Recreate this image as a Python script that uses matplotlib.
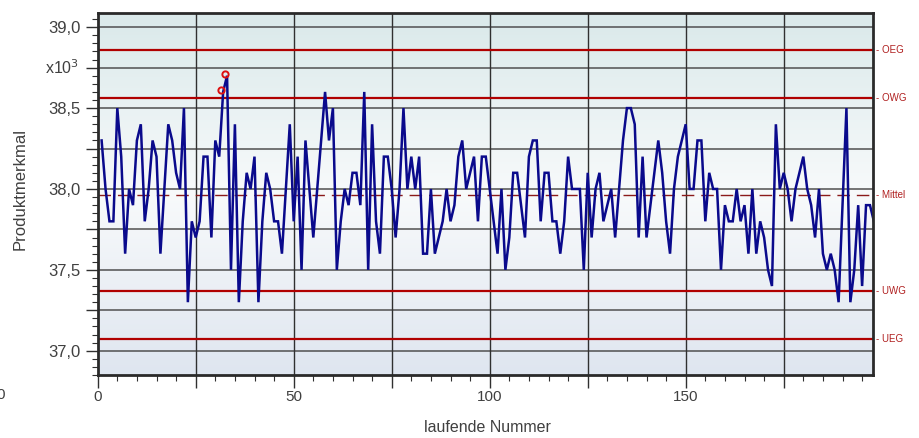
import numpy as np
import matplotlib
matplotlib.use("Agg")
import matplotlib.pyplot as plt
from matplotlib.ticker import MultipleLocator, FuncFormatter
from matplotlib.colors import LinearSegmentedColormap
import matplotlib.transforms as mtransforms

plt.rcParams['font.family'] = ['Liberation Sans', 'DejaVu Sans']

# ---- data (values in units of 10^3) ----
values = [
    38.3, 38.0, 37.8, 37.8, 38.5, 38.2, 37.6, 38.0, 37.9, 38.3,
    38.4, 37.8, 38.0, 38.3, 38.2, 37.6, 38.0, 38.4, 38.3, 38.1,
    38.0, 38.5, 37.3, 37.8, 37.7, 37.8, 38.2, 38.2, 37.7, 38.3,
    38.2, 38.6, 38.7, 37.5, 38.4, 37.3, 37.8, 38.1, 38.0, 38.2,
    37.3, 37.8, 38.1, 38.0, 37.8, 37.8, 37.6, 38.0, 38.4, 37.8,
    38.2, 37.5, 38.3, 38.0, 37.7, 38.0, 38.3, 38.6, 38.3, 38.5,
    37.5, 37.8, 38.0, 37.9, 38.1, 38.1, 37.9, 38.6, 37.5, 38.4,
    37.8, 37.6, 38.2, 38.2, 38.0, 37.7, 38.0, 38.5, 38.0, 38.2,
    38.0, 38.2, 37.6, 37.6, 38.0, 37.6, 37.7, 37.8, 38.0, 37.8,
    37.9, 38.2, 38.3, 38.0, 38.1, 38.2, 37.8, 38.2, 38.2, 38.0,
    37.8, 37.6, 38.0, 37.5, 37.7, 38.1, 38.1, 37.9, 37.7, 38.2,
    38.3, 38.3, 37.8, 38.1, 38.1, 37.8, 37.8, 37.6, 37.8, 38.2,
    38.0, 38.0, 38.0, 37.5, 38.1, 37.7, 38.0, 38.1, 37.8, 37.9,
    38.0, 37.7, 38.0, 38.3, 38.5, 38.5, 38.4, 37.7, 38.2, 37.7,
    37.9, 38.1, 38.3, 38.1, 37.8, 37.6, 38.0, 38.2, 38.3, 38.4,
    38.0, 38.0, 38.3, 38.3, 37.8, 38.1, 38.0, 38.0, 37.5, 37.9,
    37.8, 37.8, 38.0, 37.8, 37.9, 37.6, 38.0, 37.6, 37.8, 37.7,
    37.5, 37.4, 38.4, 38.0, 38.1, 38.0, 37.8, 38.0, 38.1, 38.2,
    38.0, 37.9, 37.7, 38.0, 37.6, 37.5, 37.6, 37.5, 37.3, 37.9,
    38.5, 37.3, 37.5, 37.9, 37.4, 37.9, 37.9, 37.8,
]
sample_no = list(range(1, len(values) + 1))

limit_names = ["OEG", "OWG", "Mittel", "UWG", "UEG"]
limit_values = [38.86, 38.56, 37.963, 37.37, 37.07]

flagged_no = [32, 33]

x_label = "laufende Nummer"
y_label = "Produktmerkmal"

# ---- figure ----
W, H = 919, 438
fig = plt.figure(figsize=(W / 100, H / 100), dpi=100)
fig.patch.set_facecolor("white")
ax = fig.add_axes([97.7 / W, 1 - 375 / H, (872.7 - 97.7) / W, (375 - 13.3) / H])

xmin, xmax = 0, 197.7
ymin, ymax = 36.85, 39.086
ax.set_xlim(xmin, xmax)
ax.set_ylim(ymin, ymax)

# gradient background
cmap = LinearSegmentedColormap.from_list(
    "bg", [(0.0, "#dfe6f0"), (0.5, "#f8fafb"), (1.0, "#dae9ea")])
ax.imshow(np.linspace(0, 1, 256).reshape(-1, 1), aspect="auto", cmap=cmap,
          origin="lower", extent=[xmin, xmax, ymin, ymax], zorder=0)

# grid
for yv in np.arange(37.0, 39.01, 0.25):
    ax.axhline(yv, color="#505050", lw=1.1, zorder=1)
for xv in range(25, 200, 25):
    ax.axvline(xv, color="#303030", lw=1.0, zorder=1)

# control lines
for name, val in zip(limit_names, limit_values):
    if name == "Mittel":
        ax.axhline(val, color="#8b1a1a", lw=1.0, ls=(0, (9, 5)), zorder=2)
    else:
        ax.axhline(val, color="#b00000", lw=1.6, zorder=2)
    ax.text(1.004, val, "- " + name, transform=ax.get_yaxis_transform(),
            color="#b02020", fontsize=7, va="center", ha="left",
            clip_on=False)

# data line
ax.plot(sample_no, values, color="#0a0a8c", lw=1.8, zorder=3,
        solid_joinstyle="miter")

# flagged points
offset = mtransforms.ScaledTranslation(-2.5 / 100, 2 / 100, fig.dpi_scale_trans)
fx = [sample_no[i - 1] for i in flagged_no]
fy = [values[i - 1] for i in flagged_no]
ax.plot(fx, fy, ls="none", marker="o", ms=4.5, mfc="none", mec="#dd1010",
        mew=1.4, zorder=4, transform=ax.transData + offset, clip_on=False)

# ticks
ax.xaxis.set_major_locator(MultipleLocator(25))
ax.xaxis.set_minor_locator(MultipleLocator(5))
ax.xaxis.set_major_formatter(FuncFormatter(
    lambda v, p: f"{int(round(v))}" if int(round(v)) % 50 == 0 else ""))
ax.yaxis.set_major_locator(MultipleLocator(0.25))
ax.yaxis.set_minor_locator(MultipleLocator(0.05))


def yfmt(v, p):
    if abs(v * 2 - round(v * 2)) < 1e-6:
        return f"{v:.1f}".replace(".", ",")
    return ""


ax.yaxis.set_major_formatter(FuncFormatter(yfmt))
ax.tick_params(axis="both", which="major", length=9, width=1.0,
               color="#303030", labelsize=11, labelcolor="#404040",
               direction="out")
ax.tick_params(axis="both", which="minor", length=4, width=0.8,
               color="#303030", direction="out")
ax.tick_params(axis="x", which="major", pad=2)
ax.tick_params(axis="y", which="major", pad=3, labelsize=12)

for sp in ax.spines.values():
    sp.set_color("#2a2a2a")
    sp.set_linewidth(2.0)
    sp.set_zorder(5)

fig.text(487 / W, 1 - 428 / H, x_label, fontsize=11.5, color="#404040",
         ha="center", va="center")
fig.text(20 / W, 1 - 189 / H, y_label, rotation=90, fontsize=12,
         color="#404040", ha="center", va="center")
fig.text(62 / W, 1 - 68 / H, r"x10$^{3}$", fontsize=11.5, color="#404040",
         ha="center", va="center")
fig.text(5 / W, 1 - 395 / H, "0", fontsize=11, color="#404040",
         ha="right", va="center")

fig.savefig("out.png", dpi=100)
